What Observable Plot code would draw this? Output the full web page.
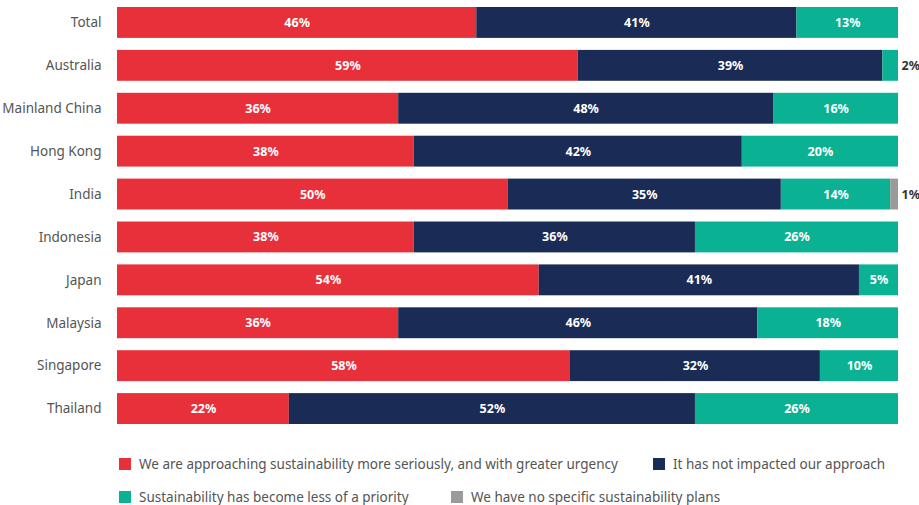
<!DOCTYPE html>
<html>
<head>
<meta charset="utf-8">
<script src="https://cdn.jsdelivr.net/npm/d3@7"></script>
<script src="https://cdn.jsdelivr.net/npm/@observablehq/plot@0.6"></script>
<style>
  body { margin: 0; background: #fff; font-family: "Noto Sans", sans-serif; }
  #wrap { position: relative; width: 919px; height: 505px; overflow: hidden; }
  .lg { position: absolute; display: flex; align-items: center; font-size: 13.5px; color: #555; white-space: nowrap; }
  .sw { width: 12px; height: 12px; margin-right: 8px; flex: none; }
</style>
</head>
<body>
<div id="wrap"></div>
<script>
const countries = ["Total", "Australia", "Mainland China", "Hong Kong", "India", "Indonesia", "Japan", "Malaysia", "Singapore", "Thailand"];
const seriesNames = [
  "We are approaching sustainability more seriously, and with greater urgency",
  "It has not impacted our approach",
  "Sustainability has become less of a priority",
  "We have no specific sustainability plans"
];
const seriesColors = ["#e8303a", "#1a2b55", "#0ab293", "#9a9a9a"];
const moreSerious = [46, 59, 36, 38, 50, 38, 54, 36, 58, 22];
const notImpacted = [41, 39, 48, 42, 35, 36, 41, 46, 32, 52];
const lessPriority = [13, 2, 16, 20, 14, 26, 5, 18, 10, 26];
const noPlans = [0, 0, 0, 0, 1, 0, 0, 0, 0, 0];

const seriesValues = [moreSerious, notImpacted, lessPriority, noPlans];
const rows = [];
countries.forEach((c, i) => {
  seriesValues.forEach((vals, s) => {
    if (vals[i] > 0) rows.push({country: c, series: seriesNames[s], value: vals[i]});
  });
});

const chart = Plot.plot({
  width: 919,
  height: 440,
  marginLeft: 117,
  marginRight: 21,
  marginTop: 7,
  marginBottom: 16,
  style: {fontFamily: "Noto Sans, sans-serif", background: "#fff"},
  x: {domain: [0, 100], axis: null},
  y: {domain: countries, paddingInner: 0.28, paddingOuter: 0, round: false, label: null, axis: null},
  color: {domain: seriesNames, range: seriesColors},
  marks: [
    Plot.barX(rows, Plot.stackX({x: "value", y: "country", fill: "series", z: "series", order: seriesNames})),
    Plot.text(rows, Plot.stackX({
      x: "value", y: "country", z: "series", order: seriesNames,
      text: d => d.value >= 3 ? d.value + "%" : "",
      fill: "white", fontWeight: "bold", fontSize: 12.5
    })),
    Plot.text(rows.filter(d => d.value < 3), {
      x: () => 100, y: "country", text: d => d.value + "%",
      dx: 3, textAnchor: "start", fill: "#333", fontWeight: "bold", fontSize: 12.5
    }),
    Plot.axisY({tickSize: 0, tickPadding: 16, fontSize: 13.5, fill: "#555", label: null})
  ]
});
const wrap = document.getElementById("wrap");
wrap.appendChild(chart);

const legendPos = [[119, 464], [653, 464], [119, 497], [451, 497]];
seriesNames.forEach((name, i) => {
  const d = document.createElement("div");
  d.className = "lg";
  d.style.left = legendPos[i][0] + "px";
  d.style.top = (legendPos[i][1] - 10) + "px";
  d.style.height = "20px";
  const sw = document.createElement("span");
  sw.className = "sw";
  sw.style.background = seriesColors[i];
  d.appendChild(sw);
  d.appendChild(document.createTextNode(name));
  wrap.appendChild(d);
});
</script>
</body>
</html>
